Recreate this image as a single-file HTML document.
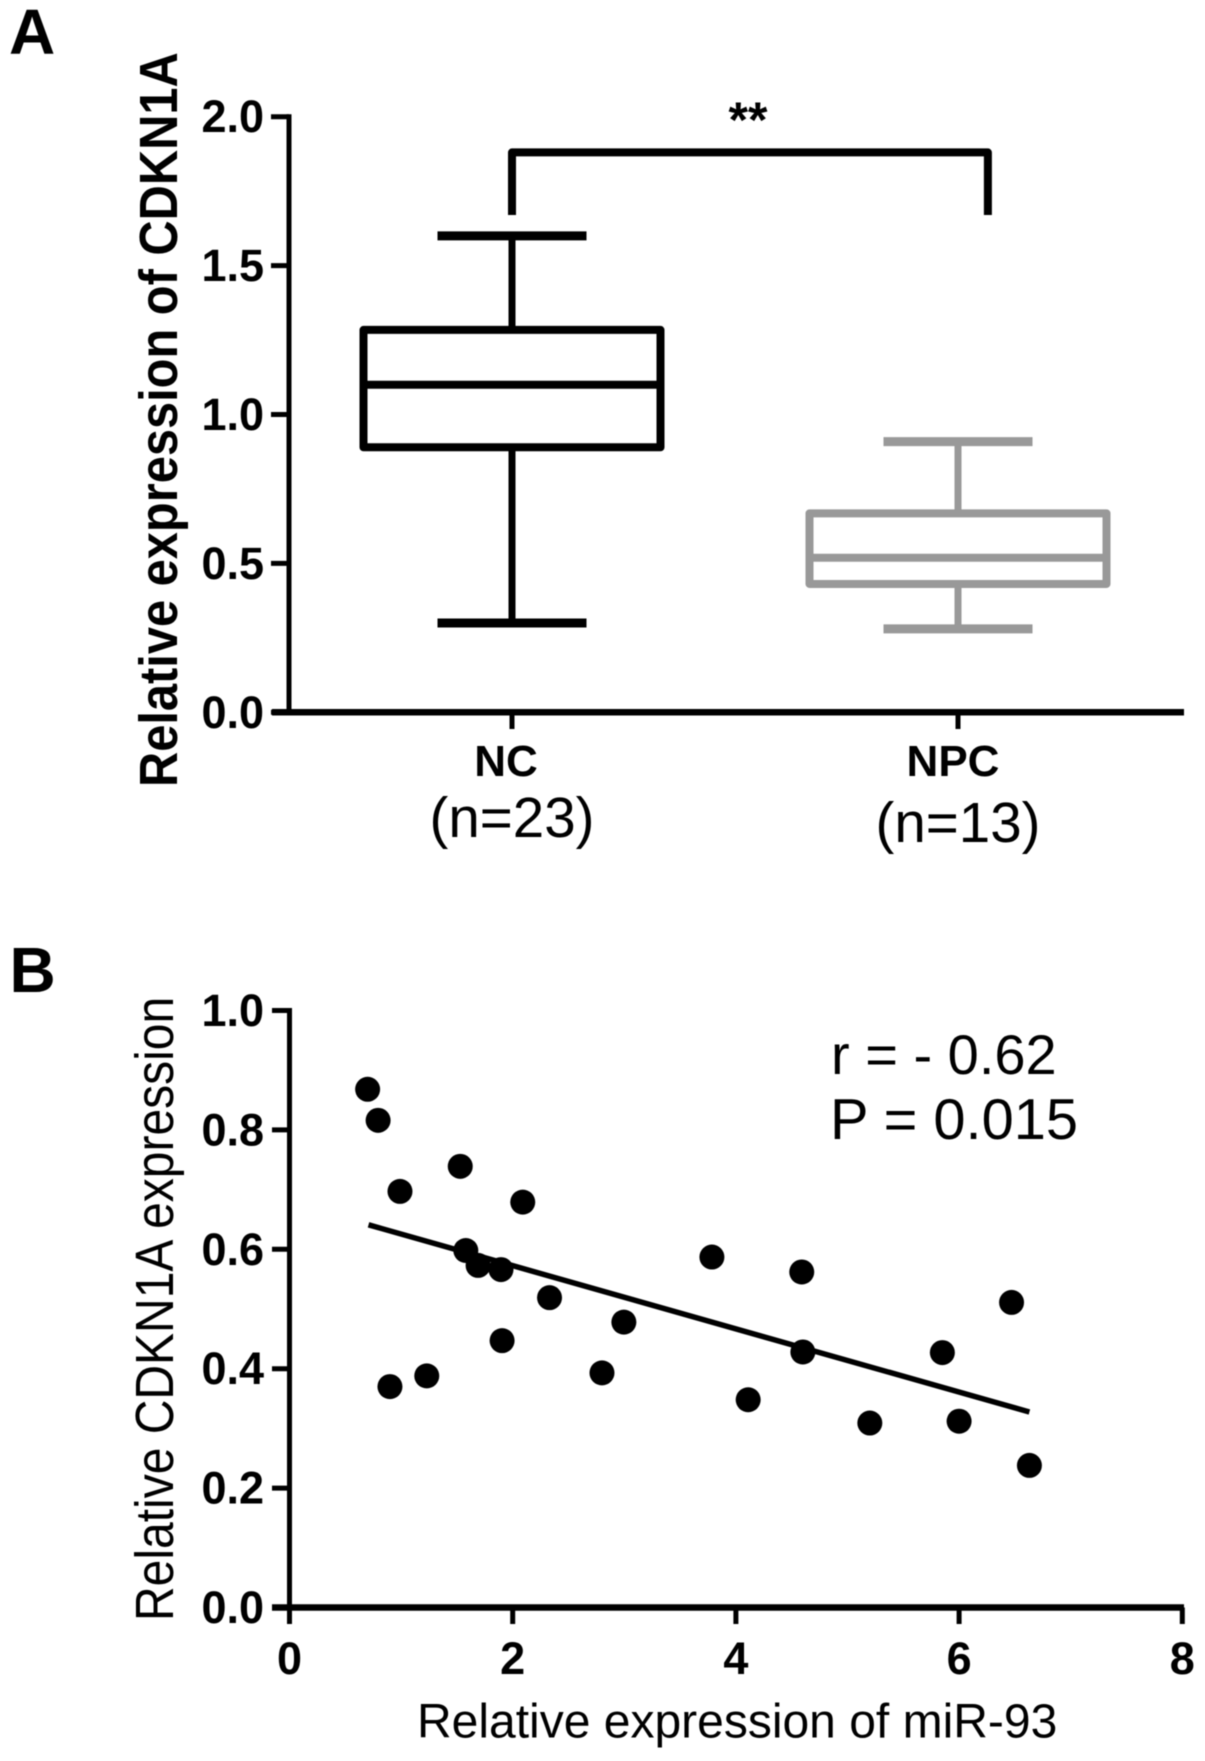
<!DOCTYPE html>
<html lang="en">
<head>
<meta charset="utf-8">
<title>CDKN1A expression figure</title>
<style>
html,body{margin:0;padding:0;background:#fff;width:1205px;height:1761px;overflow:hidden}
svg{display:block;font-family:"Liberation Sans",Arial,sans-serif;filter:blur(0.5px)}
</style>
</head>
<body>
<svg id="fig" xmlns="http://www.w3.org/2000/svg" width="1205" height="1761" viewBox="0 0 1205 1761">
  <rect x="0" y="0" width="1205" height="1761" fill="#fff"/>
  <text x="9" y="54" font-size="64" font-weight="700">A</text>
  <text x="9.5" y="992" font-size="64" font-weight="700">B</text>
  <text transform="translate(177,787) rotate(-90) scale(1,1.1)" font-size="48.8" font-weight="700">Relative expression of CDKN1A</text>
  <text transform="translate(173,1621) rotate(-90) scale(1,1.12)" font-size="48">Relative CDKN1A expression</text>
  <text x="417" y="1737.5" font-size="48">Relative expression of miR-93</text>
  <text x="748" y="137" font-size="50" font-weight="700" text-anchor="middle">**</text>
  <text x="831" y="1074" font-size="56">r = - 0.62</text>
  <text x="830" y="1139" font-size="57.8">P = 0.015</text>
  <g id="panelA"></g>
  <g id="panelB"></g>
</svg>
<script>
// Panel A data
const boxCategories = ['NC', 'NPC'];
const boxCounts = ['(n=23)', '(n=13)'];
const boxMin = [0.30, 0.28];
const boxQ1 = [0.89, 0.431];
const boxMedian = [1.10, 0.519];
const boxQ3 = [1.284, 0.668];
const boxMax = [1.60, 0.909];
const boxTicks = [0, 0.5, 1, 1.5, 2];
const boxTickLabels = ['0.0', '0.5', '1.0', '1.5', '2.0'];
const bracketCats = [0, 1.067];
const bracketLevels = [1.67, 1.88];

// Panel B data
const scatterX = [0.70, 0.794, 0.99, 1.53, 2.09, 1.58, 1.69, 1.895, 2.33, 1.905, 1.23, 0.90, 2.80, 2.996, 3.785, 4.59, 6.47, 4.60, 5.85, 4.11, 5.20, 6.00, 6.63];
const scatterY = [0.868, 0.816, 0.697, 0.739, 0.679, 0.598, 0.573, 0.566, 0.519, 0.447, 0.388, 0.370, 0.393, 0.478, 0.587, 0.562, 0.511, 0.428, 0.427, 0.348, 0.309, 0.312, 0.238];
const trendX = [0.708, 6.63];
const trendY = [0.641, 0.3275];
const scatterXTicks = [0, 2, 4, 6, 8];
const scatterYTicks = [0, 0.2, 0.4, 0.6, 0.8, 1];
const scatterYTickLabels = ['0.0', '0.2', '0.4', '0.6', '0.8', '1.0'];

// Axis functions
const yA = v => 712.3 - v * 297.8;
const xA = i => 512 + i * 446;
const yB = v => 1607.5 - v * 597;
const xB = v => 289.5 + v * 111.6;

const NS = 'http://www.w3.org/2000/svg';
function shape(parent, tag, props) {
  const el = document.createElementNS(NS, tag);
  for (const k in props) el.setAttribute(k, props[k]);
  parent.appendChild(el);
  return el;
}
function seg(parent, x1, y1, x2, y2, stroke, width) {
  return shape(parent, 'line', { x1, y1, x2, y2, stroke, 'stroke-width': width });
}
function label(parent, x, y, str, size, weight, anchor) {
  const el = shape(parent, 'text', { x, y, 'font-size': size, 'font-weight': weight, 'text-anchor': anchor });
  el.textContent = str;
  return el;
}

const pA = document.getElementById('panelA');
const pB = document.getElementById('panelB');
let el;

// Panel A axes
el = seg(pA, 289, yA(2) - 2.5, 289, yA(0), '#000', 5);


el = seg(pA, 272, yA(0), 1184, yA(0), '#000', 6.5);



boxTicks.forEach((t, i) => {
  el = seg(pA, 271, yA(t), 289, yA(t), '#000', 5);
  
  
  el = label(pA, 264, yA(t) + 15.5, boxTickLabels[i], 45, 700, 'end');
  
  
});

// Panel A boxes
const boxColors = ['#000', '#999'];
const boxHalfWidth = 148.5;
const capHalfWidth = 74.5;
const catLabelOffset = [-6, -5];
const countBaseline = [837, 842];
boxCategories.forEach((c, i) => {
  const cx = xA(i), col = boxColors[i];
  const g = shape(pA, 'g', {});
  
  

  el = seg(g, cx, yA(boxMax[i]), cx, yA(boxQ3[i]), col, 7);
  
  
  el = seg(g, cx, yA(boxQ1[i]), cx, yA(boxMin[i]), col, 7);
  
  
  el = seg(g, cx - capHalfWidth, yA(boxMax[i]), cx + capHalfWidth, yA(boxMax[i]), col, 9);
  
  
  el = seg(g, cx - capHalfWidth, yA(boxMin[i]), cx + capHalfWidth, yA(boxMin[i]), col, 9);
  
  
  el = shape(g, 'rect', {
    x: cx - boxHalfWidth, y: yA(boxQ3[i]), width: boxHalfWidth * 2,
    height: yA(boxQ1[i]) - yA(boxQ3[i]), fill: 'none', stroke: col,
    'stroke-width': 8, 'stroke-linejoin': 'round'
  });
  
  
  el = seg(g, cx - boxHalfWidth, yA(boxMedian[i]), cx + boxHalfWidth, yA(boxMedian[i]), col, 8);
  
  

  el = seg(pA, cx, yA(0), cx, 729, '#000', 5);
  
  
  el = label(pA, cx + catLabelOffset[i], 776, c, 44, 700, 'middle');
  
  
  el = label(pA, cx, countBaseline[i], boxCounts[i], 56.5, 400, 'middle');
  
  
});

// Significance bracket
el = shape(pA, 'polyline', {
  points: [
    xA(bracketCats[0]) + ',' + yA(bracketLevels[0]),
    xA(bracketCats[0]) + ',' + yA(bracketLevels[1]),
    xA(bracketCats[1]) + ',' + yA(bracketLevels[1]),
    xA(bracketCats[1]) + ',' + yA(bracketLevels[0])
  ].join(' '),
  fill: 'none', stroke: '#000', 'stroke-width': 8, 'stroke-linejoin': 'round'
});



// Panel B axes
el = seg(pB, 289.5, yB(1) - 2.5, 289.5, 1624, '#000', 5);


el = seg(pB, 272, yB(0), 1184, yB(0), '#000', 6.5);



scatterYTicks.forEach((t, i) => {
  el = seg(pB, 272, yB(t), 289.5, yB(t), '#000', 5);
  
  
  el = label(pB, 264, yB(t) + 15.5, scatterYTickLabels[i], 45, 700, 'end');
  
  
});
scatterXTicks.forEach(t => {
  el = seg(pB, xB(t), yB(0), xB(t), 1624, '#000', 5);
  
  
  el = label(pB, xB(t), 1674, String(t), 45, 700, 'middle');
  
  
});

// Trend line
el = seg(pB, xB(trendX[0]), yB(trendY[0]), xB(trendX[1]), yB(trendY[1]), '#000', 5.5);



// Scatter points
scatterX.forEach((x, i) => {
  el = shape(pB, 'circle', { cx: xB(x), cy: yB(scatterY[i]), r: 12.5, fill: '#000' });
  
  
});
</script>
</body>
</html>
